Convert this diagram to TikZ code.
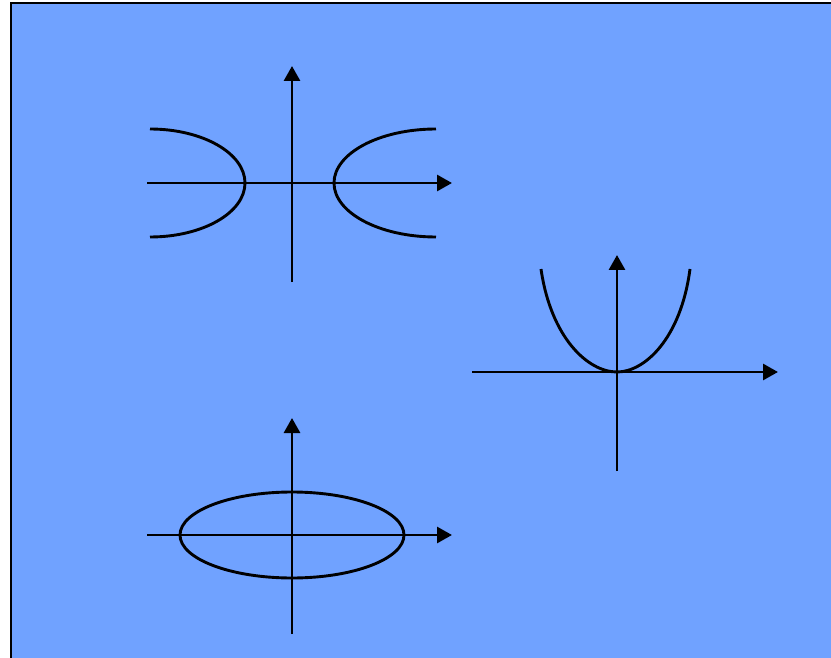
\documentclass[tikz,border=0pt]{standalone}
\usepackage{xcolor}
\usepackage{tikz}
\usetikzlibrary{arrows.meta}
\definecolor{fundo}{HTML}{70A2FF}
\tikzset{
  eixo/.style={-{Triangle[length=15pt,width=16pt]}, line width=2.9pt},
  curva/.style={line width=2.9pt},
}

\begin{document}
\begin{tikzpicture}[x=1pt, y=-1pt]
    \useasboundingbox (0,0) rectangle (831,658);
    % fundo
    \fill[fundo] (11,3) rectangle (831,658);
    \draw[line width=2.6pt] (11,658) -- (11,3) -- (831,3);
    % hiperbole
    \coordinate (oh) at (292,183);
    \draw[eixo] (147,183) -- (452,183);
    \draw[eixo] (292,282) -- (292,66);
    \draw[curva] (150,129) arc[start angle=-90, end angle=90, x radius=95, y radius=54];
    \draw[curva] (436,129) arc[start angle=270, end angle=90, x radius=102, y radius=54];
    % parabola
    \coordinate (op) at (617,372);
    \draw[eixo] (472,372) -- (778,372);
    \draw[eixo] (617,471) -- (617,255);
    \draw[curva] (541,269) .. controls (551,338) and (588,372) .. (op)
                 .. controls (645,372) and (681,338) .. (690,269);
    % elipse
    \coordinate (oe) at (292,535);
    \draw[eixo] (147,535) -- (452,535);
    \draw[eixo] (292,634) -- (292,418);
    \draw[curva] (oe) ellipse[x radius=112, y radius=43];
\end{tikzpicture}
\end{document}
